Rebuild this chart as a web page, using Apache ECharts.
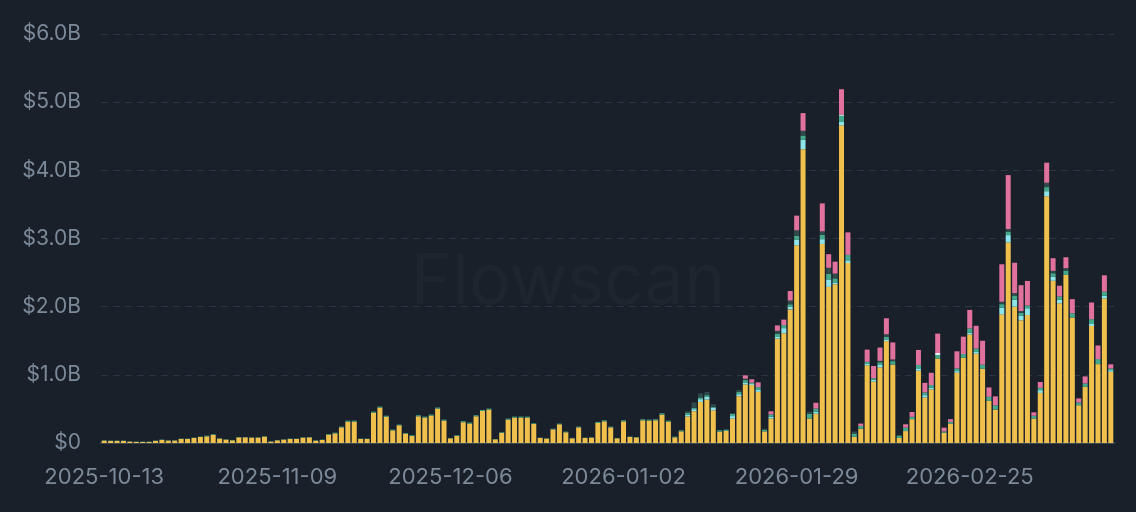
<!DOCTYPE html>
<html>
<head>
<meta charset="utf-8">
<script src="https://cdn.jsdelivr.net/npm/echarts@6/dist/echarts.min.js"></script>
<style>
  html, body { margin: 0; padding: 0; background: #1a2029; }
  #chart { width: 1136px; height: 512px; }
</style>
</head>
<body>
<div id="chart"></div>
<script>
// daily volume, in billions of dollars, from 2025-10-13
var startDate = '2025-10-13';
var dayCount = 158;

var yellow = [
  0.035, 0.03, 0.03, 0.03, 0.02, 0.015, 0.015, 0.015, 0.03, 0.045,
  0.035, 0.035, 0.059, 0.059, 0.073, 0.088, 0.098, 0.117, 0.064, 0.049,
  0.039, 0.083, 0.083, 0.078, 0.078, 0.093, 0.02, 0.039, 0.049, 0.059,
  0.059, 0.078, 0.083, 0.034, 0.044, 0.122, 0.142, 0.23, 0.313, 0.313,
  0.059, 0.059, 0.445, 0.519, 0.385, 0.186, 0.26, 0.137, 0.103, 0.392,
  0.372, 0.402, 0.505, 0.328, 0.069, 0.103, 0.305, 0.285, 0.392, 0.47,
  0.49, 0.054, 0.147, 0.343, 0.372, 0.372, 0.372, 0.279, 0.073, 0.064,
  0.20, 0.274, 0.157, 0.069, 0.23, 0.073, 0.078, 0.294, 0.318, 0.23,
  0.069, 0.318, 0.088, 0.083, 0.333, 0.328, 0.333, 0.416, 0.313, 0.083,
  0.171, 0.39, 0.466, 0.603, 0.637, 0.48, 0.167, 0.176, 0.36, 0.686,
  0.858, 0.85, 0.75, 0.17, 0.36, 1.53, 1.61, 1.96, 2.90, 4.31,
  0.36, 0.43, 2.92, 2.29, 2.33, 4.66, 2.64, 0.09, 0.21, 1.14,
  0.90, 1.11, 1.495, 1.15, 0.075, 0.175, 0.35, 1.06, 0.667, 0.785,
  1.24, 0.15, 0.285, 1.03, 1.25, 1.593, 1.31, 1.09, 0.618, 0.49,
  1.887, 2.94, 2.0, 1.80, 1.877, 0.36, 0.735, 3.62, 2.38, 2.05,
  2.466, 1.84, 0.554, 0.824, 1.716, 1.157, 2.12, 1.044
];

var cyan = [
  0, 0, 0, 0, 0, 0, 0, 0, 0, 0,
  0, 0, 0, 0, 0, 0, 0, 0, 0, 0,
  0, 0, 0, 0, 0, 0, 0, 0, 0, 0,
  0, 0, 0, 0, 0, 0, 0, 0, 0, 0,
  0, 0, 0, 0, 0, 0, 0, 0, 0, 0,
  0, 0, 0, 0, 0, 0, 0, 0, 0, 0,
  0, 0, 0, 0, 0, 0, 0, 0, 0, 0,
  0, 0, 0, 0, 0, 0, 0, 0, 0, 0,
  0, 0, 0, 0, 0, 0, 0, 0, 0, 0,
  0, 0.025, 0.03, 0.04, 0.04, 0.035, 0, 0, 0.035, 0.03,
  0.03, 0.015, 0.03, 0, 0.025, 0.025, 0.075, 0.04, 0.08, 0.14,
  0, 0.03, 0.07, 0.11, 0.025, 0.05, 0.04, 0, 0, 0.02,
  0.03, 0.035, 0.025, 0, 0, 0, 0, 0.035, 0.035, 0.025,
  0, 0, 0, 0.025, 0, 0.025, 0.025, 0, 0, 0,
  0.10, 0.11, 0.10, 0.07, 0.10, 0, 0.04, 0.074, 0.06, 0.05,
  0, 0, 0, 0, 0.03, 0, 0.04, 0.025
];

var green = [
  0.005, 0.005, 0.005, 0.005, 0.005, 0.005, 0.005, 0.005, 0.005, 0.005,
  0.005, 0.005, 0.005, 0.005, 0.005, 0.005, 0.01, 0.01, 0.005, 0.005,
  0.005, 0.005, 0.005, 0.005, 0.005, 0.005, 0.005, 0.005, 0.005, 0.005,
  0.005, 0.005, 0.005, 0.005, 0.005, 0.01, 0.01, 0.01, 0.015, 0.015,
  0.005, 0.005, 0.015, 0.015, 0.015, 0.01, 0.01, 0.01, 0.01, 0.015,
  0.015, 0.015, 0.015, 0.015, 0.005, 0.01, 0.015, 0.015, 0.015, 0.015,
  0.015, 0.005, 0.01, 0.015, 0.015, 0.015, 0.015, 0.01, 0.005, 0.005,
  0.01, 0.01, 0.01, 0.005, 0.01, 0.005, 0.005, 0.015, 0.015, 0.01,
  0.005, 0.015, 0.005, 0.005, 0.015, 0.015, 0.015, 0.02, 0.015, 0.01,
  0.015, 0.025, 0.02, 0.025, 0.025, 0.015, 0.02, 0.02, 0.035, 0.035,
  0.035, 0.02, 0.04, 0.025, 0.035, 0.05, 0.045, 0.035, 0.06, 0.06,
  0.07, 0.045, 0.065, 0.08, 0.06, 0.09, 0.08, 0.05, 0.04, 0.03,
  0.02, 0.04, 0.04, 0.05, 0.035, 0.05, 0.035, 0.05, 0.04, 0.04,
  0.05, 0.02, 0.025, 0.04, 0.055, 0.064, 0.05, 0.06, 0.06, 0.064,
  0.05, 0.05, 0.064, 0.04, 0.04, 0.04, 0.035, 0.06, 0.05, 0.05,
  0.064, 0.064, 0.04, 0.05, 0.07, 0.074, 0.06, 0.025
];

var dark = [
  0, 0, 0, 0, 0, 0, 0, 0, 0, 0,
  0, 0, 0, 0, 0, 0, 0, 0, 0, 0,
  0, 0, 0, 0, 0, 0, 0, 0, 0, 0,
  0, 0, 0, 0, 0, 0, 0, 0, 0, 0,
  0, 0, 0, 0, 0, 0, 0, 0, 0, 0,
  0, 0, 0, 0, 0, 0, 0, 0, 0, 0,
  0, 0, 0, 0, 0, 0, 0, 0, 0, 0,
  0, 0, 0, 0, 0, 0, 0, 0, 0, 0,
  0, 0, 0, 0, 0, 0, 0, 0, 0, 0,
  0, 0.025, 0.08, 0.06, 0.045, 0.04, 0, 0, 0, 0.025,
  0.02, 0, 0, 0.015, 0, 0.04, 0, 0.055, 0.08, 0.07,
  0.03, 0, 0.05, 0.09, 0.07, 0, 0, 0.03, 0, 0,
  0, 0.02, 0.035, 0.025, 0.01, 0, 0, 0, 0, 0,
  0, 0, 0, 0, 0, 0, 0, 0, 0, 0,
  0.035, 0.04, 0.035, 0.025, 0, 0, 0, 0.064, 0.035, 0,
  0.035, 0, 0, 0, 0, 0, 0, 0
];

var white = [
  0, 0, 0, 0, 0, 0, 0, 0, 0, 0,
  0, 0, 0, 0, 0, 0, 0, 0, 0, 0,
  0, 0, 0, 0, 0, 0, 0, 0, 0, 0,
  0, 0, 0, 0, 0, 0, 0, 0, 0, 0,
  0, 0, 0, 0, 0, 0, 0, 0, 0, 0,
  0, 0, 0, 0, 0, 0, 0, 0, 0, 0,
  0, 0, 0, 0, 0, 0, 0, 0, 0, 0,
  0, 0, 0, 0, 0, 0, 0, 0, 0, 0,
  0, 0, 0, 0, 0, 0, 0, 0, 0, 0,
  0, 0, 0, 0, 0, 0, 0, 0, 0, 0,
  0, 0, 0, 0, 0, 0, 0, 0, 0, 0,
  0, 0, 0, 0, 0, 0.02, 0, 0, 0, 0,
  0, 0, 0, 0, 0, 0, 0, 0, 0, 0,
  0.03, 0, 0, 0, 0, 0, 0, 0, 0, 0,
  0, 0, 0, 0, 0, 0, 0, 0, 0, 0,
  0, 0, 0, 0, 0, 0, 0, 0
];

var pink = [
  0, 0, 0, 0, 0, 0, 0, 0, 0, 0,
  0, 0, 0, 0, 0, 0, 0, 0, 0, 0,
  0, 0, 0, 0, 0, 0, 0, 0, 0, 0,
  0, 0, 0, 0, 0, 0, 0, 0, 0, 0,
  0, 0, 0, 0, 0, 0, 0, 0, 0, 0,
  0, 0, 0, 0, 0, 0, 0, 0, 0, 0,
  0, 0, 0, 0, 0, 0, 0, 0, 0, 0,
  0, 0, 0, 0, 0, 0, 0, 0, 0, 0,
  0, 0, 0, 0, 0, 0, 0, 0, 0, 0,
  0, 0, 0, 0, 0, 0, 0, 0, 0, 0,
  0.05, 0.05, 0.07, 0, 0.045, 0.08, 0.08, 0.14, 0.215, 0.26,
  0, 0.085, 0.41, 0.2, 0.175, 0.37, 0.33, 0, 0.035, 0.18,
  0.18, 0.195, 0.235, 0.25, 0, 0.05, 0.07, 0.22, 0.14, 0.18,
  0.285, 0.055, 0.04, 0.25, 0.255, 0.27, 0.335, 0.35, 0.137, 0.13,
  0.55, 0.79, 0.445, 0.38, 0.36, 0.05, 0.085, 0.294, 0.186, 0.157,
  0.16, 0.206, 0.06, 0.103, 0.245, 0.2, 0.24, 0.06
];

var yTicks = [0, 1, 2, 3, 4, 5, 6];

// date labels
var days = [];
var d0 = new Date(startDate + 'T00:00:00Z');
for (var i = 0; i < dayCount; i++) {
  var d = new Date(d0.getTime() + i * 86400000);
  days.push(d.toISOString().slice(0, 10));
}

var myChart = echarts.init(document.getElementById('chart'));

function bar(name, data, color) {
  return {
    name: name,
    type: 'bar',
    stack: 'vol',
    data: data,
    barCategoryGap: '22%',
    itemStyle: { color: color },
    silent: true
  };
}

var option = {
  backgroundColor: '#1a2029',
  animation: false,
  textStyle: { fontFamily: 'Inter, "Noto Sans", sans-serif' },
  graphic: [{
    type: 'text',
    left: 'center',
    top: 248,
    z: 0,
    style: {
      text: 'Flowscan',
      font: '400 70px Inter, sans-serif',
      fill: 'rgba(255,255,255,0.025)'
    }
  }],
  grid: { left: 101, right: 22, top: 34, bottom: 69 },
  xAxis: {
    type: 'category',
    data: days,
    axisTick: { show: false },
    axisLine: { show: true, lineStyle: { color: '#3a4654', width: 2 } },
    axisLabel: {
      interval: 26,
      margin: 23,
      color: '#7b8998',
      fontSize: 22
    }
  },
  yAxis: {
    type: 'value',
    min: yTicks[0],
    max: yTicks[yTicks.length - 1],
    interval: 1,
    axisLine: { show: false },
    axisTick: { show: false },
    splitLine: { lineStyle: { color: '#2b3642', type: [7, 5], width: 1 } },
    axisLabel: {
      margin: 20,
      color: '#7b8998',
      fontSize: 21,
      formatter: function (v) { return v === 0 ? '$0' : '$' + v.toFixed(1) + 'B'; }
    }
  },
  series: [
    bar('A', yellow, '#f0c04c'),
    bar('B', cyan, '#8ee4e8'),
    bar('C', green, '#46a98b'),
    bar('D', dark, '#2f4a4a'),
    bar('E', white, '#e6edf0'),
    bar('F', pink, '#e0729d')
  ]
};

myChart.setOption(option);
</script>
</body>
</html>
